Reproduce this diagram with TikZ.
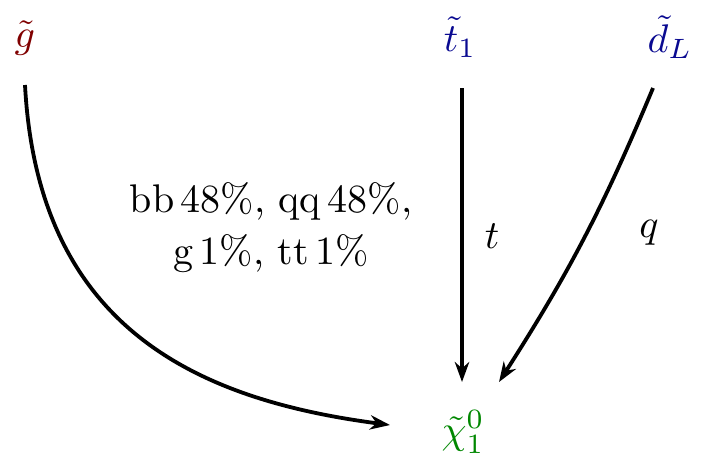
\documentclass[tikz,border=0pt]{standalone}
\usetikzlibrary{arrows.meta}
\definecolor{gcol}{RGB}{128,0,0}
\definecolor{scol}{RGB}{10,10,145}
\definecolor{ncol}{RGB}{0,135,0}
\begin{document}
\begin{tikzpicture}[x=0.25pt,y=-0.25pt,
  arr/.style={line width=0.95pt,-{Stealth[length=5pt,width=3.6pt,inset=1.6pt]}},
  lab/.style={inner sep=0pt}]
\useasboundingbox (0,0) rectangle (712,472);
\node[lab,text=gcol] (g) at (25,38) {$\tilde g$};
\node[lab,text=scol] (t) at (460,37) {$\tilde t_1$};
\node[lab,text=scol] (d) at (670,37) {$\tilde d_L$};
\node[lab,text=ncol] (n) at (463,432) {$\tilde\chi_1^0$};
\coordinate (gs) at (25,85);
\coordinate (ge) at (390,425);
\coordinate (ts) at (462,88);
\coordinate (te) at (462,382);
\coordinate (ds) at (653,88);
\coordinate (de) at (499,382);
\draw[arr] (gs) .. controls (38,330) and (200,400) .. (ge);
\draw[arr] (ts) -- (te);
\draw[arr] (ds) to[bend left=5] (de);
\node[lab,align=center] (br) at (271,228) {bb\,48\%, qq\,48\%,\\[1pt] g\,1\%, tt\,1\%};
\node[lab] (tl) at (492,236) {$t$};
\node[lab] (ql) at (649,233) {$q$};
\end{tikzpicture}
\end{document}
